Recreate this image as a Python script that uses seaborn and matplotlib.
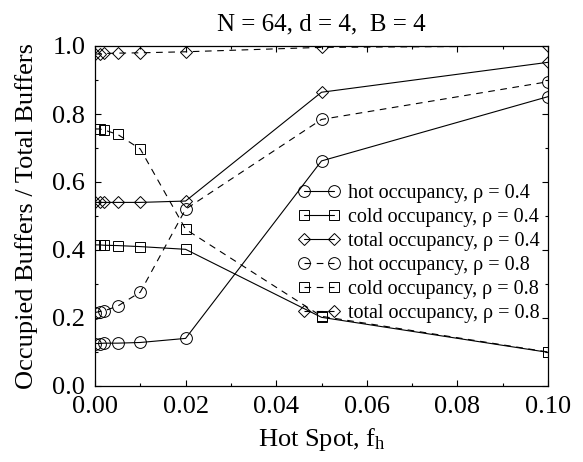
import matplotlib
matplotlib.use("Agg")
import matplotlib.pyplot as plt
import seaborn as sns
import numpy as np
from matplotlib.ticker import MultipleLocator

# Data
hot_spot = [0.0, 0.001, 0.002, 0.005, 0.01, 0.02, 0.05, 0.10]
hot_04 = [0.125, 0.125, 0.126, 0.126, 0.128, 0.140, 0.662, 0.851]
cold_04 = [0.415, 0.415, 0.414, 0.413, 0.410, 0.402, 0.202, 0.099]
total_04 = [0.540, 0.540, 0.540, 0.540, 0.540, 0.544, 0.864, 0.952]
hot_08 = [0.216, 0.219, 0.221, 0.235, 0.276, 0.520, 0.784, 0.895]
cold_08 = [0.756, 0.756, 0.753, 0.740, 0.697, 0.461, 0.205, 0.100]
total_08 = [0.976, 0.977, 0.978, 0.979, 0.980, 0.983, 0.996, 1.000]

labels = ["hot occupancy, ρ = 0.4", "cold occupancy, ρ = 0.4", "total occupancy, ρ = 0.4",
          "hot occupancy, ρ = 0.8", "cold occupancy, ρ = 0.8", "total occupancy, ρ = 0.8"]
title = "N = 64, d = 4,  B = 4"
xlabel = "Hot Spot, f$_\\mathrm{h}$"
ylabel = "Occupied Buffers / Total Buffers"

sns.set_theme(style="ticks")
plt.rcParams['font.family'] = ['Liberation Serif', 'DejaVu Serif']
plt.rcParams['mathtext.fontset'] = 'custom'
plt.rcParams['mathtext.rm'] = 'Liberation Serif'
plt.rcParams['mathtext.it'] = 'Liberation Serif:italic'

fig = plt.figure(figsize=(5.83, 4.62), dpi=100)
ax = fig.add_axes([95/583, 1-386/462, (548-95)/583, (386-46)/462])

series = [hot_04, cold_04, total_04, hot_08, cold_08, total_08]
markers = ['o', 's', 'D', 'o', 's', 'D']
msizes = [8.5, 7, 6.5, 8.5, 7, 6.5]
styles = ['-', '-', '-', (0, (6, 5)), (0, (6, 5)), (0, (6, 5))]

for ys, m, ms, ls, lab in zip(series, markers, msizes, styles, labels):
    sns.lineplot(x=hot_spot, y=ys, ax=ax, color='black', linewidth=0.8,
                 linestyle=ls, marker=m, markersize=ms, markerfacecolor='none',
                 markeredgecolor='black', markeredgewidth=0.7, label=lab)

ax.set_xlim(0, 0.10)
ax.set_ylim(0, 1.0)
ax.xaxis.set_major_locator(MultipleLocator(0.02))
ax.xaxis.set_minor_locator(MultipleLocator(0.01))
ax.yaxis.set_major_locator(MultipleLocator(0.2))
ax.yaxis.set_minor_locator(MultipleLocator(0.1))
ax.xaxis.set_major_formatter(matplotlib.ticker.FormatStrFormatter('%.2f'))
ax.yaxis.set_major_formatter(matplotlib.ticker.FormatStrFormatter('%.1f'))
ax.tick_params(which='both', direction='in', top=True, right=True, labelsize=19,
               color='black', width=0.8, labelcolor='black')
ax.tick_params(which='major', length=4.5, pad=7)
ax.tick_params(which='minor', length=2.5)
for s in ax.spines.values():
    s.set_visible(True)
    s.set_color('black')
    s.set_linewidth(0.9)

ax.set_xlabel(xlabel, fontsize=19, color='black', labelpad=6)
ax.set_ylabel(ylabel, fontsize=19, color='black', labelpad=10)
ax.set_title(title, fontsize=18, color='black', pad=11)

leg = ax.legend(loc='upper left', bbox_to_anchor=(0.447, 0.595), frameon=False,
                fontsize=14.5, numpoints=2, handlelength=2.1, handletextpad=0.4,
                labelspacing=0.245, borderpad=0, borderaxespad=0)
for t in leg.get_texts():
    t.set_color('black')

fig.savefig("out.png", dpi=100, facecolor='white')
